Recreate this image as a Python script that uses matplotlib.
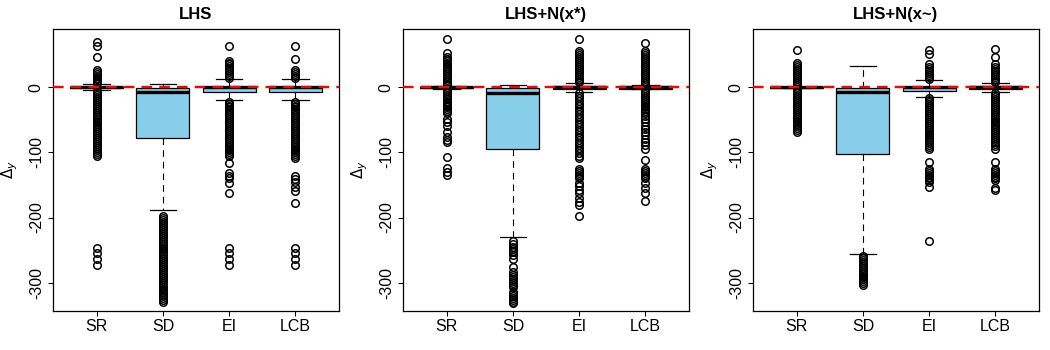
import matplotlib
matplotlib.use("Agg")
import matplotlib.pyplot as plt

plt.rcParams['font.family'] = ['Liberation Sans', 'DejaVu Sans']
plt.rcParams['axes.unicode_minus'] = False

categories = ["SR", "SD", "EI", "LCB"]
titles = ["LHS", "LHS+N(x*)", "LHS+N(x~)"]

# ---------- Panel 1: LHS ----------
lhs_med = [0, -8, 0, 0]
lhs_q1 = [-1.5, -77.5, -7.7, -7.7]
lhs_q3 = [1, -0.5, 0.5, 0.5]
lhs_whislo = [-4, -189, -19.5, -19.5]
lhs_whishi = [4.5, 4.5, 12.3, 12.3]
lhs_fliers_sr = [69, 64, 46, 27, 24, 21, 18, 15, 12, 9, 6,
                 -6, -9, -12, -15, -18, -21, -24, -27, -30, -33, -36, -39, -42, -45,
                 -48, -51, -54, -57, -60, -63, -66, -69, -72, -75, -78, -81, -84, -87,
                 -90, -93, -96, -99, -102, -105,
                 -247, -255, -264, -273]
lhs_fliers_sd = [-198, -201, -204, -207, -210, -213, -216, -219, -222, -225, -228,
                 -231, -234, -237, -240, -243, -246, -249, -252, -255, -258, -261,
                 -264, -267, -270, -273, -276, -279, -282, -285, -288, -291, -294,
                 -297, -300, -303, -306, -309, -312, -315, -318, -321, -324, -327, -329]
lhs_fliers_ei = [63, 41, 38, 35, 32, 29, 26, 23, 20, 17, 14,
                 -22, -25, -28, -31, -34, -37, -40, -43, -46, -49, -52, -55, -58, -61,
                 -64, -67, -70, -73, -76, -79, -82, -85, -88, -91, -94, -97, -100, -103,
                 -106, -117, -132, -136, -140, -147, -163,
                 -247, -255, -264, -273]
lhs_fliers_lcb = [63, 43, 27, 24, 21, 18, 15,
                  -22, -25, -28, -31, -34, -37, -40, -43, -46, -49, -52, -55, -58, -61,
                  -64, -67, -70, -73, -76, -79, -82, -85, -88, -91, -94, -97, -100, -103,
                  -106, -109, -136, -141, -146, -153, -160, -178,
                  -247, -255, -264, -273]

# ---------- Panel 2: LHS+N(x*) ----------
nstar_med = [0, -9.2, 0, 0]
nstar_q1 = [-1.5, -95.2, -2.5, -2]
nstar_q3 = [0.5, -1.5, 1.5, 2]
nstar_whislo = [-2, -230.4, -7.7, -3]
nstar_whishi = [1.5, 3, 6.6, 3]
nstar_fliers_sr = [74, 52, 47, 44, 41, 38, 35, 32, 29, 26, 23, 20, 17, 14, 11, 8, 5, 3,
                   -3, -6, -9, -12, -15, -18, -22, -25, -28, -31, -34, -37, -40,
                   -48, -53, -60, -68, -76, -81, -84, -107, -124, -130, -135]
nstar_fliers_sd = [-236, -240, -245, -248, -251, -253, -258, -264, -276, -283,
                   -288, -291, -294, -297, -300, -303, -306,
                   -314, -317, -320, -323, -326, -329, -331]
nstar_fliers_ei = [74, 55, 52, 49, 46, 43, 40, 37, 34, 31, 28, 25, 22, 19, 16, 13, 10, 8,
                   -9, -13, -17, -21, -25, -29, -33, -37, -41, -45, -49, -53, -57, -61,
                   -65, -69, -73, -77, -81, -85, -89, -93, -97, -101, -105, -109,
                   -125, -128, -131, -134, -137, -140, -147, -152, -158, -163, -170,
                   -176, -181, -198]
nstar_fliers_lcb = [68, 55, 52, 49, 46, 43, 40, 37, 34, 31, 28, 25, 22, 19, 16, 13, 10, 7, 4,
                    -4, -7, -10, -13, -16, -19, -22, -25, -28, -31, -34, -37, -40,
                    -44, -49, -54, -59, -64, -69, -74, -79, -84, -89, -94,
                    -112, -125, -128, -131, -134, -137, -140, -147, -155, -163, -174]

# ---------- Panel 3: LHS+N(x~) ----------
ntil_med = [0, -8, 0, 0]
ntil_q1 = [-1, -103, -5.7, -2]
ntil_q3 = [0.5, -0.5, 0.5, 2]
ntil_whislo = [-1.5, -256.5, -15.4, -7.7]
ntil_whishi = [1, 33, 10.7, 6]
ntil_fliers_sr = [58, 37, 34, 31, 28, 25, 22, 19, 16, 13, 10, 7, 4,
                  -3, -6, -9, -12, -15, -18, -21, -24, -27, -30, -33, -36, -39, -42,
                  -45, -48, -51, -54, -57, -60, -63, -66, -69]
ntil_fliers_sd = [-259, -262, -265, -268, -271, -274, -277, -280, -283, -286, -289,
                  -292, -295, -298, -301, -304]
ntil_fliers_ei = [57, 51, 35, 31, 28, 25, 22, 19, 16, 13,
                  -17, -20, -23, -26, -29, -32, -35, -38, -41, -44, -47, -50, -53, -56,
                  -59, -62, -65, -68, -71, -74, -77, -80, -83, -86, -89, -92, -95,
                  -114, -125, -128, -131, -134, -137, -140, -143, -146, -153, -236]
ntil_fliers_lcb = [59, 47, 36, 31, 28, 25, 22, 19, 16, 13, 10, 8,
                   -9, -12, -15, -18, -21, -24, -27, -30, -33, -36, -39, -42, -45, -48,
                   -51, -54, -57, -60, -63, -66, -69, -72, -75, -78, -81, -84, -87, -90,
                   -94, -114, -125, -128, -131, -134, -137, -140, -143, -155, -158]

yticks = [0, -100, -200, -300]

panels = [
    (lhs_med, lhs_q1, lhs_q3, lhs_whislo, lhs_whishi,
     [lhs_fliers_sr, lhs_fliers_sd, lhs_fliers_ei, lhs_fliers_lcb]),
    (nstar_med, nstar_q1, nstar_q3, nstar_whislo, nstar_whishi,
     [nstar_fliers_sr, nstar_fliers_sd, nstar_fliers_ei, nstar_fliers_lcb]),
    (ntil_med, ntil_q1, ntil_q3, ntil_whislo, ntil_whishi,
     [ntil_fliers_sr, ntil_fliers_sd, ntil_fliers_ei, ntil_fliers_lcb]),
]

W, H = 1050, 350
fig = plt.figure(figsize=(W / 100, H / 100), dpi=100)
lefts = [53, 403, 753]
ax_w, ax_top, ax_bot = 286, 29, 311

for i, (med, q1, q3, wlo, whi, fl) in enumerate(panels):
    ax = fig.add_axes([lefts[i] / W, 1 - ax_bot / H, ax_w / W, (ax_bot - ax_top) / H])
    stats = []
    for j, name in enumerate(categories):
        stats.append(dict(med=med[j], q1=q1[j], q3=q3[j], whislo=wlo[j],
                          whishi=whi[j], fliers=fl[j], label=name))
    ax.bxp(stats, positions=[1, 2, 3, 4], widths=0.8, capwidths=0.4,
           patch_artist=True, showfliers=True,
           boxprops=dict(facecolor='#87CEEB', edgecolor='black', linewidth=0.9),
           medianprops=dict(color='black', linewidth=2.4, solid_capstyle='butt'),
           whiskerprops=dict(color='black', linewidth=0.8, linestyle=(0, (6, 4.5))),
           capprops=dict(color='black', linewidth=0.9),
           flierprops=dict(marker='o', markerfacecolor='none', markeredgecolor='black',
                           markersize=5.4, markeredgewidth=1.1, linestyle='none'))
    ax.axhline(0, color='red', linewidth=1.7, linestyle=(0, (4.5, 3)), zorder=5)
    ax.set_xlim(0.34, 4.66)
    ax.set_ylim(-343.5, 89.5)
    ax.set_xticks([1, 2, 3, 4])
    ax.set_xticklabels(categories, fontsize=11.5)
    ax.set_yticks(yticks)
    ax.set_yticklabels([str(v) for v in yticks], fontsize=11.5, rotation=90, va='center')
    ax.tick_params(axis='both', direction='out', length=3.6, width=0.75, color='black')
    ax.tick_params(axis='x', pad=2.5)
    ax.tick_params(axis='y', pad=3)
    for s in ax.spines.values():
        s.set_linewidth(0.9)
        s.set_color('black')
    ax.set_title(titles[i], fontsize=12, fontweight='bold', pad=7)
    ax.set_ylabel(r'$\Delta_y$', fontsize=11)
    ax.yaxis.set_label_coords(-33 / ax_w, 0.5)

fig.savefig("out.png", dpi=100)
